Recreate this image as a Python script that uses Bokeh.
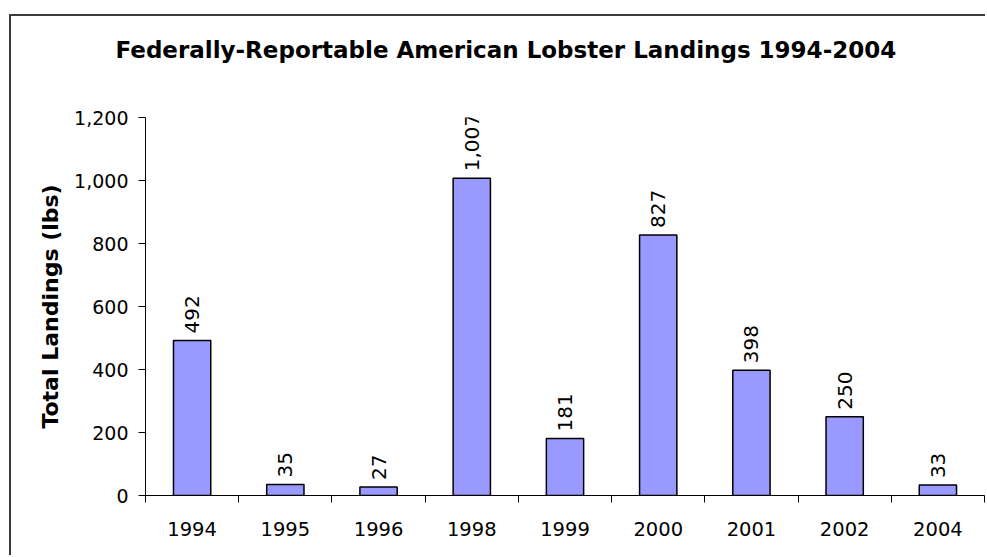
import math
from bokeh.plotting import figure
from bokeh.models import FixedTicker, Range1d, ColumnDataSource, Title
from bokeh.embed import file_html
from bokeh.resources import INLINE
from bokeh.core.properties import value

years = ["1994", "1995", "1996", "1998", "1999", "2000", "2001", "2002", "2004"]
landings = [492, 35, 27, 1007, 181, 827, 398, 250, 33]
y_ticks = [0, 200, 400, 600, 800, 1000, 1200]
y_tick_labels = ["0", "200", "400", "600", "800", "1,000", "1,200"]
title_text = "Federally-Reportable American Lobster Landings 1994-2004"
y_label = "Total Landings (lbs)"

FONT = "DejaVu Sans"

xpos = [i + 1 for i in range(len(years))]
labels = [f"{v:,}" for v in landings]
src = ColumnDataSource(dict(x=xpos, top=landings, label=labels))

p = figure(width=976, height=541, output_backend="svg", toolbar_location=None,
           x_range=Range1d(0.5, len(years) + 0.5), y_range=Range1d(0, 1200),
           min_border_left=134, min_border_right=3, min_border_top=101,
           min_border_bottom=62)
p.margin = (14, 0, 0, 9)
p.styles = {"border-top": "2px solid #3c3c3c", "border-left": "2px solid #3c3c3c"}
p.title.text = ""

# spacer between plot area and title (nearest the frame)
p.add_layout(Title(text=" ", text_font_size="1px", standoff=52), "above")
# real title
p.add_layout(Title(text=title_text, text_font=FONT, text_font_size="23px",
                   text_font_style="bold", text_color="black", align="left",
                   vertical_align="bottom", offset=-30, standoff=0), "above")

p.vbar(x="x", top="top", width=0.4, source=src, fill_color="#9999FF",
       line_color="black", line_width=1.5)
p.text(x="x", y="top", text="label", source=src, angle=math.pi / 2,
       text_align="left", text_baseline="middle", y_offset=-7,
       text_font=value(FONT), text_font_size="20px", text_color="black")

p.grid.visible = False
p.outline_line_color = None
p.background_fill_color = "white"
p.border_fill_color = "white"

xa = p.xaxis[0]
xa.ticker = FixedTicker(ticks=xpos, minor_ticks=[i + 0.5 for i in range(len(years) + 1)])
xa.major_label_overrides = {x: y for x, y in zip(xpos, years)}
xa.major_tick_out = 0
xa.major_tick_in = 0
xa.minor_tick_out = 7
xa.minor_tick_in = 0
xa.minor_tick_line_color = "black"
xa.axis_line_color = "black"
xa.major_label_text_font = FONT
xa.major_label_text_font_size = "19.5px"
xa.major_label_text_color = "black"
xa.major_label_standoff = 19

ya = p.yaxis[0]
ya.ticker = FixedTicker(ticks=y_ticks, minor_ticks=[])
ya.major_label_overrides = dict(zip(y_ticks, y_tick_labels))
ya.major_tick_out = 7
ya.major_tick_in = 0
ya.major_tick_line_color = "black"
ya.minor_tick_line_color = None
ya.axis_line_color = "black"
ya.major_label_text_font = FONT
ya.major_label_text_font_size = "19px"
ya.major_label_text_color = "black"
ya.major_label_standoff = 10
ya.axis_label = y_label
ya.axis_label_text_font = FONT
ya.axis_label_text_font_size = "22px"
ya.axis_label_text_font_style = "bold"
ya.axis_label_text_color = "black"
ya.axis_label_standoff = 8

open("out.html", "w").write(file_html(p, INLINE))
